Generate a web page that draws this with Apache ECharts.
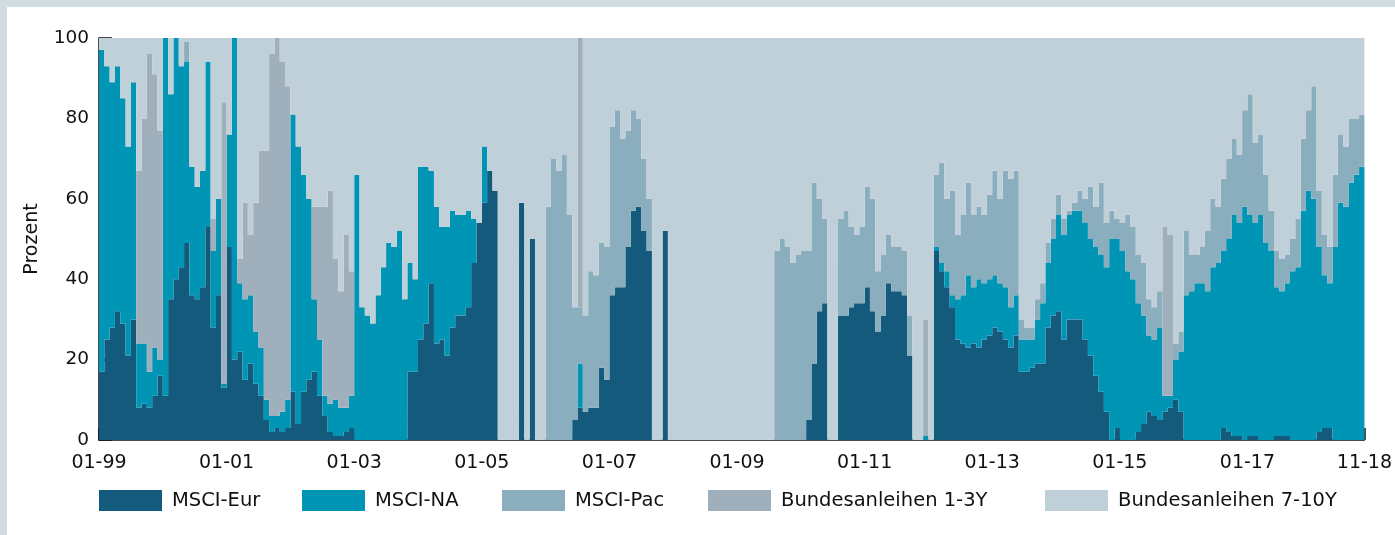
<!DOCTYPE html>
<html><head><meta charset="utf-8">
<script src="https://cdn.jsdelivr.net/npm/echarts@6/dist/echarts.min.js"></script>
<style>
html,body{margin:0;padding:0;width:1395px;height:535px;background:#d0dbe2;overflow:hidden}
#c{position:absolute;left:7px;top:7px;width:1388px;height:528px;background:#ffffff}
</style></head>
<body><div id="c"></div>
<script>
// Monthly categories Jan 1999 .. Nov 2018 (239 months)
const startYear = 1999, monthCount = 239;
const categories = [];
for (let i = 0; i < monthCount; i++) {
  const y = startYear + Math.floor(i / 12), m = i % 12 + 1;
  categories.push(String(m).padStart(2, '0') + '-' + String(y % 100).padStart(2, '0'));
}
const tickLabels = ['01-99','01-01','01-03','01-05','01-07','01-09','01-11','01-13','01-15','01-17','11-18'];
const seriesNames = ['MSCI-Eur','MSCI-NA','MSCI-Pac','Bundesanleihen 1-3Y','Bundesanleihen 7-10Y'];

const msciEur = [
17,25,28,32,29,21,30,8,9,8,11,16,
11,35,40,43,49,36,35,38,53,28,36,13,
48,20,22,15,19,14,11,5,2,3,2,3,
12,4,12,15,17,11,6,2,1,1,2,3,
0,0,0,0,0,0,0,0,0,0,17,17,
25,29,39,24,25,21,28,31,31,33,44,54,
59,67,62,0,0,0,0,59,0,50,0,0,
0,0,0,0,0,5,8,7,8,8,18,15,
36,38,38,48,57,58,52,47,0,0,52,0,
0,0,0,0,0,0,0,0,0,0,0,0,
0,0,0,0,0,0,0,0,0,0,0,0,
0,5,19,32,34,0,0,31,31,33,34,34,
38,32,27,31,39,37,37,36,21,0,0,0,
0,47,42,38,33,25,24,23,24,23,25,26,
28,27,25,23,26,17,17,18,19,19,28,31,
32,25,30,30,30,25,21,16,12,7,0,3,
0,0,0,2,4,7,6,5,7,8,10,7,
0,0,0,0,0,0,0,3,2,1,1,0,
1,1,0,0,0,1,1,1,0,0,0,0,
0,2,3,3,0,0,0,0,0,0,0];

const msciNA = [
80,68,61,61,56,52,59,16,15,9,12,4,
89,51,60,50,45,32,28,29,41,19,24,1,
28,80,17,20,17,13,12,5,4,3,5,7,
69,69,54,45,18,14,5,7,9,7,6,8,
66,33,31,29,36,43,49,48,52,35,27,23,
43,39,28,34,28,32,29,25,25,24,11,0,
14,0,0,0,0,0,0,0,0,0,0,0,
0,0,0,0,0,0,11,0,0,0,0,0,
0,0,0,0,0,0,0,0,0,0,0,0,
0,0,0,0,0,0,0,0,0,0,0,0,
0,0,0,0,0,0,0,0,0,0,0,0,
0,0,0,0,0,0,0,0,0,0,0,0,
0,0,0,0,0,0,0,0,0,0,0,1,
0,1,2,4,3,10,12,18,14,17,14,14,
13,12,13,10,10,8,8,7,11,15,16,19,
24,26,26,27,27,29,29,32,34,36,50,47,
47,42,40,32,27,19,19,23,4,3,10,15,
36,37,39,39,37,43,44,44,48,55,53,58,
55,53,56,49,47,37,36,38,42,43,57,62,
60,46,38,36,48,59,58,64,66,68,38];

const msciPac = [
0,0,0,0,0,0,0,0,0,0,0,0,
0,0,0,0,5,0,0,0,0,0,0,0,
0,0,0,0,0,0,0,0,0,0,0,0,
0,0,0,0,0,0,0,0,0,0,0,0,
0,0,0,0,0,0,0,0,0,0,0,0,
0,0,0,0,0,0,0,0,0,0,0,0,
0,0,0,0,0,0,0,0,0,0,0,0,
58,70,67,71,56,28,14,24,34,33,31,33,
42,44,37,29,25,22,18,13,0,0,0,0,
0,0,0,0,0,0,0,0,0,0,0,0,
0,0,0,0,0,0,0,47,50,48,44,46,
47,42,45,28,21,0,0,24,26,20,17,19,
25,28,15,15,12,11,11,11,10,0,0,0,
0,18,25,18,26,16,20,23,18,18,17,21,
26,21,29,32,31,5,3,3,5,5,5,5,
5,4,1,2,5,6,13,10,18,11,7,5,
7,14,13,12,13,9,8,9,0,0,4,5,
16,9,7,9,15,17,14,18,20,19,17,24,
30,20,20,17,10,9,8,7,8,12,18,20,
28,14,10,9,18,17,15,16,14,13,5];

const bund13 = [
0,0,0,0,0,0,0,43,56,79,68,57,
0,0,0,0,0,0,0,0,0,8,0,70,
0,0,6,24,15,32,49,62,90,94,87,78,
0,0,0,0,23,33,47,53,35,29,43,31,
0,0,0,0,0,0,0,0,0,0,0,0,
0,0,0,0,0,0,0,0,0,0,0,0,
0,0,0,0,0,0,0,0,0,0,0,0,
0,0,0,0,0,0,67,0,0,0,0,0,
0,0,0,0,0,0,0,0,0,0,0,0,
0,0,0,0,0,0,0,0,0,0,0,0,
0,0,0,0,0,0,0,0,0,0,0,0,
0,0,0,0,0,0,0,0,0,0,0,0,
0,0,0,0,0,0,0,0,0,0,0,29,
0,0,0,0,0,0,0,0,0,0,0,0,
0,0,0,0,0,0,0,0,0,0,0,0,
0,0,0,0,0,0,0,0,0,0,0,0,
0,0,0,0,0,0,0,0,42,40,0,0,
0,0,0,0,0,0,0,0,0,0,0,0,
0,0,0,0,0,0,0,0,0,0,0,0,
0,0,0,0,0,0,0,0,0,0,0];

const bund710 = [
3,7,11,7,15,27,11,33,20,4,9,23,
0,14,0,7,1,32,37,33,6,45,40,16,
24,0,55,41,49,41,28,28,4,0,6,12,
19,27,34,40,42,42,42,38,55,63,49,58,
34,67,69,71,64,57,51,52,48,65,56,60,
32,32,33,42,47,47,43,44,44,43,45,46,
27,33,38,100,100,100,100,41,100,50,100,100,
42,30,33,29,44,67,0,69,58,59,51,52,
22,18,25,23,18,20,30,40,100,100,48,100,
100,100,100,100,100,100,100,100,100,100,100,100,
100,100,100,100,100,100,100,53,50,52,56,54,
53,53,36,40,45,100,100,45,43,47,49,47,
37,40,58,54,49,52,52,53,69,100,100,70,
100,34,31,40,38,49,44,36,44,42,44,39,
33,40,33,35,33,70,72,72,65,61,51,45,
39,45,43,41,38,40,37,42,36,46,43,45,
46,44,47,54,56,65,67,63,47,49,76,73,
48,54,54,52,48,40,42,35,30,25,29,18,
14,26,24,34,43,53,55,54,50,45,25,18,
12,38,49,52,34,24,27,20,20,19,57];

const seriesData = [msciEur, msciNA, msciPac, bund13, bund710];
const colors = ['#135a7c', '#0095b4', '#8aaebe', '#9fb0bc', '#bfd0d9'];
const FONT = '"DejaVu Sans", "Open Sans", sans-serif';
const TXT = '#111111';
const legendLefts = [92, 295, 495, 701, 1038];

const chart = echarts.init(document.getElementById('c'), null, {renderer: 'canvas'});
const isTick = (idx, val) => tickLabels.indexOf(categories[idx]) >= 0;

chart.setOption({
  animation: false,
  textStyle: {fontFamily: FONT},
  grid: {left: 92, top: 31, width: 1268.5, height: 402, containLabel: false},
  xAxis: {
    type: 'category', data: categories, boundaryGap: false,
    axisLine: {show: true, lineStyle: {color: '#111', width: 1.5}},
    axisTick: {show: true, inside: true, length: 12, interval: isTick, lineStyle: {color: '#111', width: 1.5}},
    axisLabel: {show: true, interval: isTick, margin: 14, fontSize: 19, color: TXT, fontFamily: FONT},
    splitLine: {show: false}
  },
  yAxis: {
    type: 'value', min: 0, max: 100, interval: 20,
    name: 'Prozent', nameLocation: 'middle', nameGap: 57, nameRotate: 90,
    nameTextStyle: {fontSize: 19, color: TXT, fontFamily: FONT},
    axisLine: {show: true, lineStyle: {color: '#111', width: 1.5}},
    axisTick: {show: true, inside: true, length: 13, lineStyle: {color: '#111', width: 1.5}},
    axisLabel: {margin: 10, fontSize: 18.5, color: TXT, fontFamily: FONT},
    splitLine: {show: false}
  },
  legend: seriesNames.map((n, i) => ({
    data: [n], left: legendLefts[i], top: 483, padding: 0, itemGap: 0,
    itemWidth: 63, itemHeight: 21, icon: 'rect', selectedMode: false,
    textStyle: {fontSize: 19.5, color: TXT, fontFamily: FONT, padding: [0, 0, 0, 5]}
  })),
  series: seriesNames.map((n, i) => ({
    name: n, type: 'line', stack: 'total', step: 'end',
    data: seriesData[i], symbol: 'none', showSymbol: false, silent: true,
    color: colors[i],
    lineStyle: {width: 0, color: colors[i]},
    areaStyle: {color: colors[i], opacity: 1},
    z: 2
  }))
});
</script></body></html>
